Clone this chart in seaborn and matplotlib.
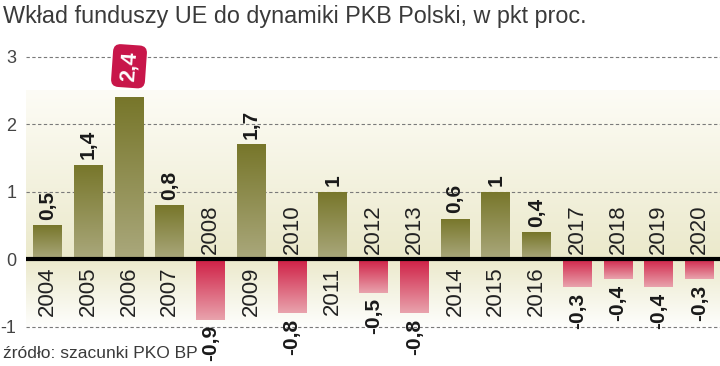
import numpy as np
import pandas as pd
import seaborn as sns
import matplotlib.pyplot as plt
from matplotlib.colors import LinearSegmentedColormap, to_rgb

# dane
years = ['2004', '2005', '2006', '2007', '2008', '2009', '2010', '2011', '2012',
         '2013', '2014', '2015', '2016', '2017', '2018', '2019', '2020']
values = [0.5, 1.4, 2.4, 0.8, -0.9, 1.7, -0.8, 1.0, -0.5,
          -0.8, 0.6, 1.0, 0.4, -0.42, -0.3, -0.42, -0.3]
value_labels = ['0,5', '1,4', '2,4', '0,8', '-0,9', '1,7', '-0,8', '1', '-0,5',
                '-0,8', '0,6', '1', '0,4', '-0,3', '-0,4', '-0,4', '-0,3']
highlight_year = '2006'
y_ticks = [-1, 0, 1, 2, 3]

title = 'Wkład funduszy UE do dynamiki PKB Polski, w pkt proc.'
source = 'źródło: szacunki PKO BP'

df = pd.DataFrame({'rok': years, 'wartosc': values})
df['znak'] = np.where(df['wartosc'] >= 0, 'plus', 'minus')

sns.set_style('white')
plt.rcParams['font.family'] = ['Liberation Sans', 'DejaVu Sans']

fig = plt.figure(figsize=(7.2, 3.66), dpi=100)
ax = fig.add_axes([26 / 720, 0, 694 / 720, 316 / 366])

sns.barplot(data=df, x='rok', y='wartosc', hue='znak', dodge=False, width=0.71,
            palette={'plus': '#7d7c33', 'minus': '#d2284c'}, legend=False,
            saturation=1, linewidth=0, edgecolor='none', ax=ax, zorder=2)

xlim = (-0.528, 16.503)
ylim = (-1.585, 3.1)
ax.set_xlim(xlim)
ax.set_ylim(ylim)

# kremowe tło z gradientem
def two_color(c1, c2):
    return LinearSegmentedColormap.from_list('g', [to_rgb(c1), to_rgb(c2)])

grad = np.linspace(0, 1, 256).reshape(-1, 1)
ax.imshow(grad, cmap=two_color('#fdfcf6', '#ebe9cb'), aspect='auto',
          extent=(xlim[0], xlim[1], 0, 2.5), origin='upper', zorder=0)
ax.imshow(grad, cmap=two_color('#ebe9cb', '#ffffff'), aspect='auto',
          extent=(xlim[0], xlim[1], -1.05, 0), origin='upper', zorder=0)

# gradient na słupkach
pos_cmap = two_color('#77762a', '#aaa87c')
neg_cmap = two_color('#cf1f45', '#e9a3ad')
for patch in ax.patches:
    x0 = patch.get_x()
    w = patch.get_width()
    h = patch.get_height()
    y0 = patch.get_y()
    top, bottom = max(y0, y0 + h), min(y0, y0 + h)
    if top - bottom == 0:
        continue
    cmap = pos_cmap if bottom >= 0 else neg_cmap
    im = ax.imshow(grad, cmap=cmap, aspect='auto', extent=(x0, x0 + w, bottom, top),
                   origin='upper', zorder=3)
    im.set_clip_path(patch)

ax.set_xlim(xlim)
ax.set_ylim(ylim)

# siatka
for t in y_ticks:
    if t != 0:
        ax.axhline(t, color='#7a7a7a', lw=0.8, ls=(0, (3, 2.2)), zorder=1)
ax.axhline(0, color='black', lw=3, zorder=5)

ax.set_yticks(y_ticks)
ax.set_yticklabels([str(t) for t in y_ticks], fontsize=13, color='#444444')
ax.tick_params(axis='y', length=0, pad=7)
ax.set_xticks([])
ax.set_xlabel('')
ax.set_ylabel('')
for s in ax.spines.values():
    s.set_visible(False)

# etykiety lat i wartości
for i, (yr, v, lab) in enumerate(zip(years, values, value_labels)):
    if v >= 0:
        ax.annotate(yr, (i, 0), xytext=(0, -5.5), textcoords='offset points',
                    rotation=90, ha='center', va='top', fontsize=16,
                    color='#222222', zorder=6)
        if yr == highlight_year:
            ax.annotate(lab, (i, v), xytext=(0, 11), textcoords='offset points',
                        rotation=86, ha='center', va='bottom', fontsize=15.5,
                        fontweight='bold', color='white', zorder=6,
                        bbox=dict(boxstyle='round,pad=0.3,rounding_size=0.35',
                                  fc='#c8164a', ec='none'))
        else:
            ax.annotate(lab, (i, v), xytext=(0, 4), textcoords='offset points',
                        rotation=90, ha='center', va='bottom', fontsize=15,
                        fontweight='bold', color='#1a1a1a', zorder=6)
    else:
        ax.annotate(yr, (i, 0), xytext=(0, 3.5), textcoords='offset points',
                    rotation=90, ha='center', va='bottom', fontsize=16,
                    color='#222222', zorder=6)
        ax.annotate(lab, (i, v), xytext=(0, -4), textcoords='offset points',
                    rotation=90, ha='center', va='top', fontsize=15,
                    fontweight='bold', color='#1a1a1a', zorder=6)

fig.text(3 / 720, 1 - 16 / 366, title, ha='left', va='center', fontsize=16.8,
         color='#3a3a3a')
fig.text(3 / 720, 1 - 354 / 366, source, ha='left', va='center', fontsize=12.5,
         color='#3a3a3a')

fig.savefig('out.png', dpi=100)
